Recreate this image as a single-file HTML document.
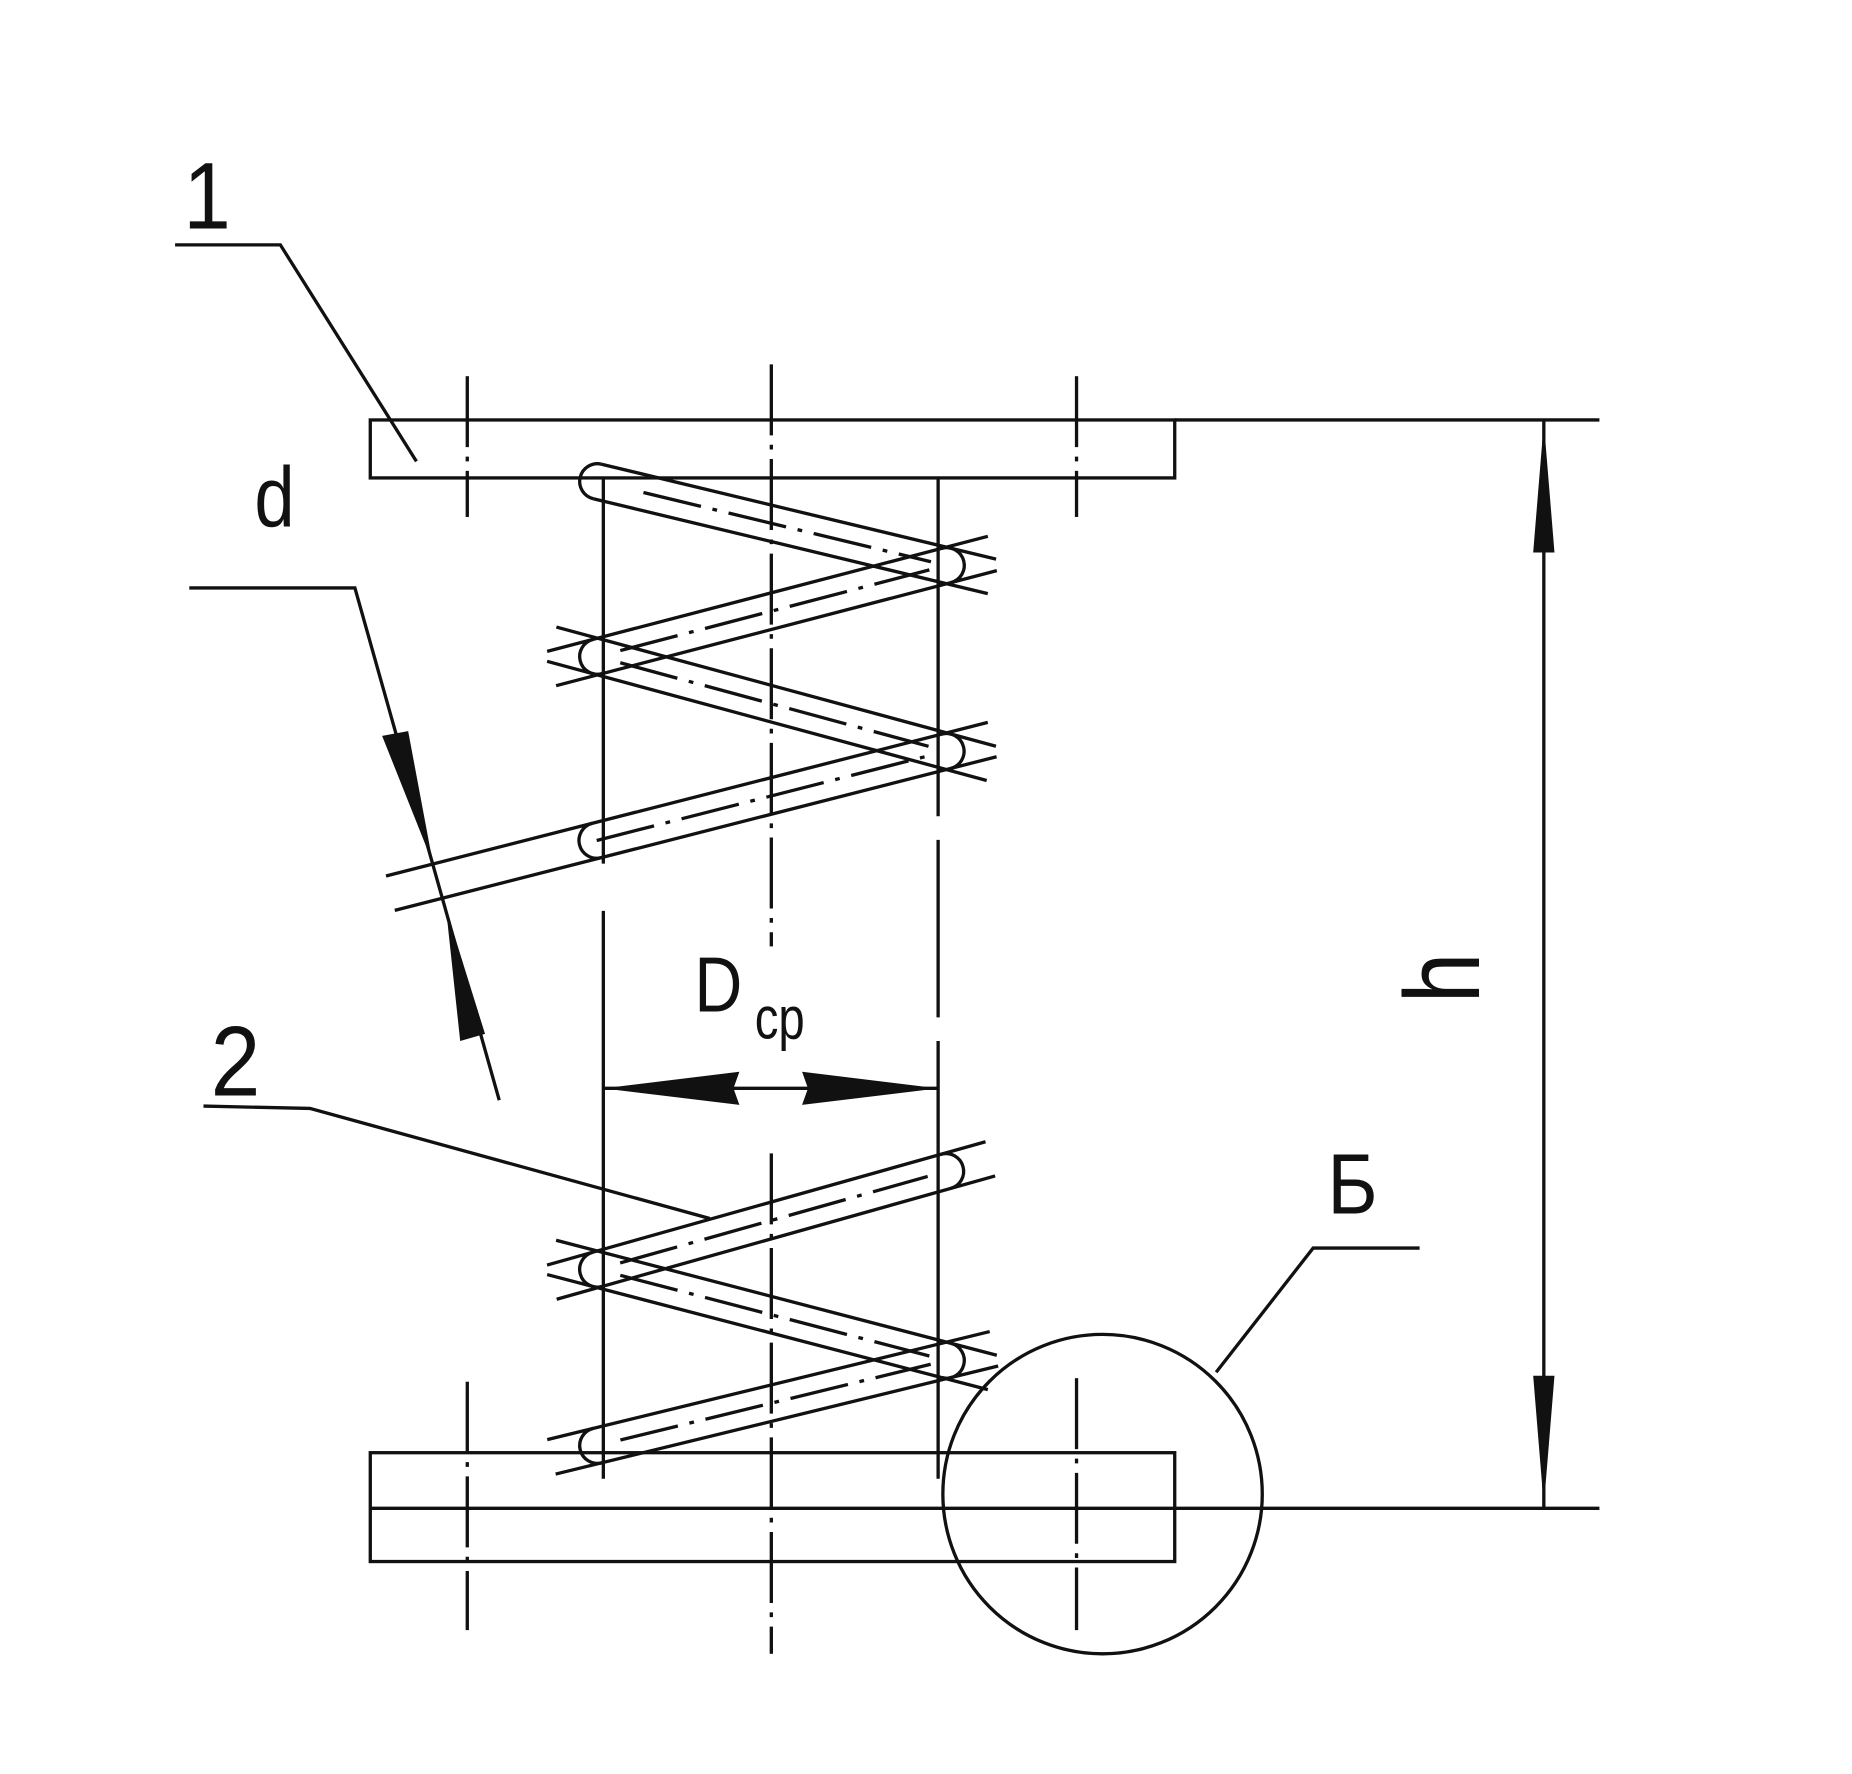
<!DOCTYPE html>
<html><head><meta charset="utf-8"><style>
html,body{margin:0;padding:0;background:#fff;}
svg{display:block;}
text{font-family:"Liberation Sans","DejaVu Sans",sans-serif;fill:#111;}
</style></head><body>
<svg width="1852" height="1774" viewBox="0 0 1565.5 1499.6" preserveAspectRatio="none" xmlns="http://www.w3.org/2000/svg">
<g stroke="#111" stroke-width="2.8" fill="none">
<rect x="313" y="355" width="680" height="49"/>
<line x1="993" y1="355" x2="1352" y2="355"/>
<rect x="313" y="1228" width="680" height="92"/>
<line x1="313" y1="1275" x2="1352" y2="1275"/>
<g stroke-dasharray="60 8 4 8">
<line x1="395" y1="318" x2="395" y2="437"/>
<line x1="910" y1="318" x2="910" y2="437"/>
<line x1="652" y1="308" x2="652" y2="800"/>
<line x1="395" y1="1168" x2="395" y2="1378"/>
<line x1="910" y1="1165" x2="910" y2="1378"/>
<line x1="652" y1="975" x2="652" y2="1398"/>
</g>
<line x1="510" y1="404" x2="510" y2="730"/>
<line x1="510" y1="770" x2="510" y2="1250"/>
<line x1="793" y1="404" x2="793" y2="690"/>
<line x1="793" y1="710" x2="793" y2="860"/>
<line x1="793" y1="880" x2="793" y2="1250"/>

<g transform="translate(505,407) rotate(13.53)">
<line x1="0" y1="-15" x2="343" y2="-15"/><line x1="0" y1="15" x2="343" y2="15"/>
<line x1="40" y1="0" x2="290" y2="0" stroke-dasharray="50 10 4 10"/>
<path d="M0,-15 A15,15 0 0 0 0,15"/>
</g>
<g transform="translate(505,555) rotate(-14.63)">
<line x1="-40" y1="-15" x2="345" y2="-15"/><line x1="-40" y1="15" x2="345" y2="15"/>
<line x1="20" y1="0" x2="290" y2="0" stroke-dasharray="50 10 4 10"/>
<path d="M305,-15 A15,15 0 0 1 305,15"/><path d="M0,-15 A15,15 0 0 0 0,15"/>
</g>
<g transform="translate(505,555) rotate(15.17)">
<line x1="-40" y1="-15" x2="345" y2="-15"/><line x1="-40" y1="15" x2="345" y2="15"/>
<line x1="20" y1="0" x2="290" y2="0" stroke-dasharray="50 10 4 10"/>
</g>
<g transform="translate(330,755) rotate(-14.32)">
<line x1="0" y1="-15" x2="525" y2="-15"/><line x1="0" y1="15" x2="525" y2="15"/>
<line x1="180" y1="0" x2="470" y2="0" stroke-dasharray="50 10 4 10"/>
<path d="M485,-15 A15,15 0 0 1 485,15"/><path d="M180,-15 A15,15 0 0 0 180,15"/>
</g>
<g transform="translate(505,1073) rotate(-15.71)">
<line x1="-40" y1="-15" x2="345" y2="-15"/><line x1="-40" y1="15" x2="345" y2="15"/>
<line x1="20" y1="0" x2="290" y2="0" stroke-dasharray="50 10 4 10"/>
<path d="M306,-15 A15,15 0 0 1 306,15"/><path d="M0,-15 A15,15 0 0 0 0,15"/>
</g>
<g transform="translate(505,1073) rotate(14.63)">
<line x1="-40" y1="-15" x2="345" y2="-15"/><line x1="-40" y1="15" x2="345" y2="15"/>
<line x1="20" y1="0" x2="290" y2="0" stroke-dasharray="50 10 4 10"/>
<path d="M305,-15 A15,15 0 0 1 305,15"/>
</g>
<g transform="translate(505,1222) rotate(-13.72)">
<line x1="-40" y1="-15" x2="345" y2="-15"/><line x1="-40" y1="15" x2="345" y2="15"/>
<line x1="20" y1="0" x2="290" y2="0" stroke-dasharray="50 10 4 10"/>
<path d="M0,-15 A15,15 0 0 0 0,15"/>
</g>

<line x1="1305" y1="355" x2="1305" y2="1275"/>
<line x1="510" y1="920" x2="793" y2="920"/>
<polyline points="160,497 300,497 422,930"/>
<polyline points="148,207 237,207 352,390"/>
<polyline points="172,935 262,937 600,1030"/>
<polyline points="1200,1055 1110,1055 1028,1160"/>
<circle cx="932" cy="1263" r="135"/>
</g>
<g fill="#111">
<polygon points="1305,357 1296,467 1314,467"/>
<polygon points="1305,1273 1296,1163 1314,1163"/>
<polygon points="510,920 625,906 620,920 625,934"/>
<polygon points="793,920 678,906 683,920 678,934"/>
<polygon points="366,730 323,622 345,618"/>
<polygon points="377,768 389,880 410,874"/>
</g>
<text x="155" y="193" font-size="80" transform="translate(155 0) scale(0.9 1) translate(-155 0)">1</text>
<text x="215" y="445" font-size="72" transform="translate(215 0) scale(0.85 1) translate(-215 0)">d</text>
<text x="178" y="926" font-size="84" transform="translate(178 0) scale(0.9 1) translate(-178 0)">2</text>
<text x="1122" y="1026" font-size="72" transform="translate(1122 0) scale(0.9 1) translate(-1122 0)">Б</text>
<text x="587" y="855" font-size="66" transform="translate(587 0) scale(0.85 1) translate(-587 0)">D</text>
<text x="638" y="878" font-size="50" transform="translate(638 0) scale(0.8 1) translate(-638 0)">ср</text>
<text x="0" y="0" font-size="90" transform="translate(1250 848) rotate(-90) scale(0.85 1)">h</text>
</svg>
</body></html>
